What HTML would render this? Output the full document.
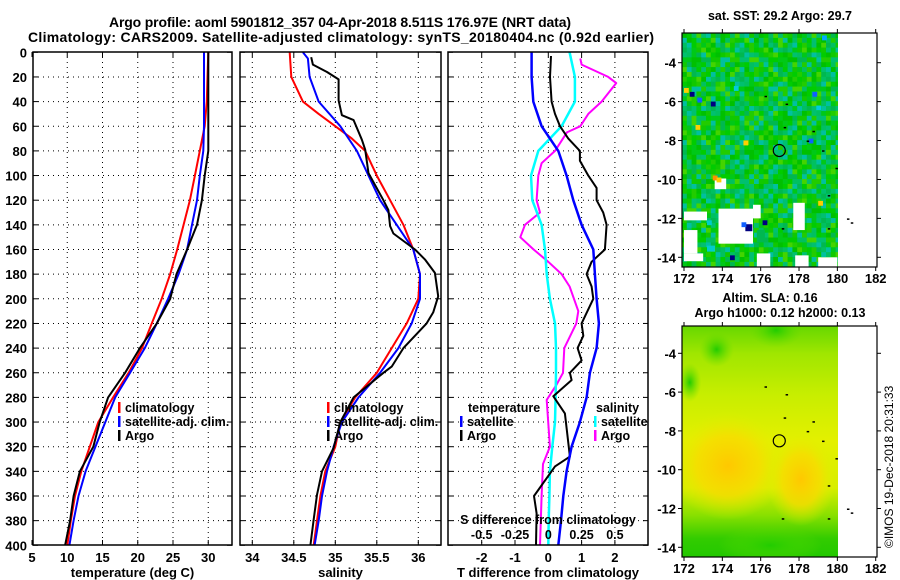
<!DOCTYPE html>
<html><head><meta charset="utf-8">
<style>
html,body{margin:0;padding:0;background:#fff;}
svg{display:block;font-family:"Liberation Sans",Arial,sans-serif;font-weight:bold;}
</style></head>
<body>
<svg id="c" width="900" height="580" viewBox="0 0 900 580" xmlns="http://www.w3.org/2000/svg">
<defs>
<clipPath id="cp1"><rect x="33" y="52" width="199" height="493"/></clipPath>
<clipPath id="cp2"><rect x="240" y="52" width="201" height="493"/></clipPath>
<clipPath id="cp3"><rect x="448" y="52" width="200" height="493"/></clipPath>
<clipPath id="cpm1"><rect x="682" y="33" width="156" height="234"/></clipPath>
<clipPath id="cpm2"><rect x="682" y="326" width="156" height="231"/></clipPath>
<radialGradient id="blobA" cx="0.5" cy="0.5" r="0.5"><stop offset="0" stop-color="#ffc800"/><stop offset="0.55" stop-color="#f8dc00" stop-opacity="0.8"/><stop offset="1" stop-color="#e0f000" stop-opacity="0"/></radialGradient>
<radialGradient id="blobG" cx="0.5" cy="0.5" r="0.5"><stop offset="0" stop-color="#22cc00"/><stop offset="1" stop-color="#66dd00" stop-opacity="0"/></radialGradient>
<linearGradient id="m2v" x1="0" y1="0" x2="0" y2="1">
<stop offset="0" stop-color="#66d800"/><stop offset="0.12" stop-color="#a0e600"/><stop offset="0.3" stop-color="#c8ee00"/><stop offset="0.5" stop-color="#e4f000"/><stop offset="0.7" stop-color="#d8ee00"/><stop offset="0.82" stop-color="#88e000"/><stop offset="0.92" stop-color="#33cc00"/><stop offset="1" stop-color="#22c800"/></linearGradient>
</defs>
<g id="root"></g>
</svg>
<script>
// ---------- data ----------
const depthStd = [0,20,40,60,80,100,120,140,160,180,200,220,240,260,280,300,320,340,360,380,400];
const tArgo = [30.0,30.0,30.0,30.0,30.0,29.5,29.1,28.4,27.0,25.5,24.6,22.7,20.3,18.2,15.8,14.6,13.7,11.8,10.9,10.4,9.7];
const tClim = [30.0,29.9,29.8,29.5,28.8,28.1,27.4,26.5,25.6,24.6,23.4,22.0,20.6,18.7,16.5,14.4,13.2,12.0,11.1,10.5,10.0];
const tSat  = [29.4,29.4,29.4,29.4,29.3,28.8,28.4,27.7,27.0,25.8,24.3,22.7,21.0,18.9,16.8,15.4,14.0,12.6,11.6,10.9,10.3];
const sArgoDepth = [4,10,16,22,39,51,55,71,79,98,120,128,141,147,160,168,179,198,211,220,240,255,260,280,300,321,340,359,379,400];
const sArgo = [34.71,34.73,34.90,35.04,35.04,35.08,35.22,35.32,35.36,35.40,35.58,35.64,35.66,35.70,35.96,36.08,36.20,36.24,36.18,36.10,35.82,35.68,35.58,35.22,35.06,34.98,34.84,34.78,34.74,34.70];
const sClimDepth = [0,20,40,50,60,70,80,100,120,140,160,180,200,220,240,260,280,300,320,340,360,380,400];
const sClim = [34.45,34.47,34.61,34.80,35.00,35.20,35.36,35.50,35.66,35.82,35.94,36.02,36.00,35.86,35.68,35.50,35.24,35.06,35.00,34.88,34.82,34.78,34.74];
const sSatDepth = [0,5,20,40,60,80,100,120,140,160,180,200,220,240,260,280,300,320,340,360,380,400];
const sSat = [34.61,34.67,34.69,34.80,35.06,35.26,35.40,35.54,35.74,35.94,36.02,36.02,35.92,35.76,35.54,35.28,35.08,34.98,34.90,34.84,34.80,34.75];
const dTSat = [-0.5,-0.5,-0.45,-0.2,0.3,0.55,0.75,1.0,1.35,1.4,1.45,1.52,1.45,1.25,1.15,0.95,0.7,0.55,0.45,0.38,0.3];
const dTArgoDepth = [3,20,40,50,60,70,80,88,100,110,120,130,140,160,170,180,190,200,220,230,240,250,260,266,279,293,328,336,360,374,400];
const dTArgo = [0.08,0.05,0.1,0.2,0.35,0.6,0.95,0.95,1.2,1.45,1.45,1.65,1.75,1.7,1.3,1.15,1.3,1.35,1.0,1.05,0.88,1.0,0.65,0.7,0.15,0.5,0.65,0.2,-0.43,-0.35,-0.37];
const dSSat = [0.16,0.2,0.2,0.1,-0.075,-0.13,-0.12,-0.05,-0.025,-0.012,0.012,0.05,0.058,0.058,0.055,0.05,0.03,0.012,0.008,0.003,0.0];
const dSArgoDepth = [5,10,20,25,40,50,60,65,80,90,100,120,130,140,150,160,170,180,190,210,220,240,260,270,282,320,334,360,400];
const dSArgo = [0.24,0.25,0.45,0.51,0.4,0.3,0.24,0.14,0.05,-0.05,-0.075,-0.088,-0.062,-0.175,-0.21,-0.11,0.0,0.1,0.16,0.225,0.21,0.12,0.11,0.06,-0.012,0.012,-0.04,-0.05,-0.062];
const depthTicks = [0,20,40,60,80,100,120,140,160,180,200,220,240,260,280,300,320,340,360,380,400];
const tTicks = [5,10,15,20,25,30];
const sTicks = [34,34.5,35,35.5,36];
const sTickLabels = ["34","34.5","35","35.5","36"];
const dTTicks = [-2,-1,0,1,2];
const dSTicks = [-0.5,-0.25,0,0.25,0.5];
const dSTickLabels = ["-0.5","-0.25","0","0.25","0.5"];
const lonTicks = [172,174,176,178,180,182];
const latTicks = [-4,-6,-8,-10,-12,-14];
const argoLon = 176.97, argoLat = -8.511;
// ---------- scales ----------
const yD = d => 52.3 + d*1.2325;
const xT = t => 32 + (t-5)*7.05;
const xS = s => 252.3 + (s-34)*83;
const xDT = v => 548.3 + v*33.3;
const xDS = v => 548.3 + v*133.2;
const m1 = {x0:682,x1:877,y0:33,y1:267,lon:l=>684+(l-172)*19.17,lat:a=>62.7+(-4-a)*19.46};
const m2 = {x0:682,x1:877,y0:326,y1:557,lon:l=>684+(l-172)*19.17,lat:a=>353.3+(-4-a)*19.4};

const NS="http://www.w3.org/2000/svg";
const root=document.getElementById('root');
function el(tag,attrs,parent){const e=document.createElementNS(NS,tag);for(const k in attrs)e.setAttribute(k,attrs[k]);(parent||root).appendChild(e);return e;}
function txt(x,y,s,size,anchor,parent){const t=el('text',{x:x,y:y,'font-size':size,'text-anchor':anchor||'middle',fill:'#000'},parent);t.textContent=s;return t;}

let t1=txt(340,27,"Argo profile: aoml 5901812_357 04-Apr-2018 8.511S 176.97E (NRT data)",14);


t1.setAttribute('textLength','462');
let t2=txt(341,42,"Climatology: CARS2009. Satellite-adjusted climatology: synTS_20180404.nc (0.92d earlier)",14);


t2.setAttribute('textLength','626');

function panel(name,x0,x1,clip,xticks,xfn,xlabels,xtitle){
  const g=el('g',{});
  
  
  const grid=el('g',{stroke:'#000','stroke-width':1,'stroke-dasharray':'1,4'},g);
  
  
  depthTicks.forEach(d=>{if(d>0&&d<400)el('line',{x1:x0,x2:x1,y1:yD(d),y2:yD(d)},grid);});
  xticks.forEach(v=>{const x=xfn(v);if(x>x0+2&&x<x1-2)el('line',{x1:x,x2:x,y1:52,y2:545},grid);});
  const tk=el('g',{stroke:'#000','stroke-width':1},g);
  depthTicks.forEach(d=>{el('line',{x1:x0,x2:x0+5,y1:yD(d),y2:yD(d)},tk);el('line',{x1:x1-5,x2:x1,y1:yD(d),y2:yD(d)},tk);});
  xticks.forEach(v=>{const x=xfn(v);el('line',{x1:x,x2:x,y1:545,y2:540},tk);el('line',{x1:x,x2:x,y1:52,y2:57},tk);});
  xticks.forEach((v,i)=>{const l=txt(xfn(v),562,xlabels[i],13,'middle',g);
    
    });
  const xt=txt((x0+x1)/2,577,xtitle,13,'middle',g);
  
  
  return g;
}
function frame(x0,x1,g){el('rect',{x:x0,y:52,width:x1-x0,height:493,fill:'none',stroke:'#000','stroke-width':1.5},g);}
function line(g,clip,xs,ds,xfn,color,name,w){
  const pts=xs.map((v,i)=>xfn(v).toFixed(1)+','+yD(ds[i]).toFixed(1)).join(' ');
  const p=el('polyline',{points:pts,fill:'none',stroke:color,'stroke-width':w||2,'stroke-linejoin':'round','clip-path':'url(#'+clip+')'},g);
  
  
}
function legend(g,x,y,items){
  items.forEach((it,i)=>{
    const yy=y+i*14;
    if(it.c) el('rect',{x:x,y:yy-10,width:2.5,height:11,fill:it.c},g);
    const l=txt(x+(it.c?7:0),yy,it.t,12.5,'start',g);
    
    
  });
}

const yl=el('g',{});


depthTicks.forEach(d=>{txt(27,yD(d)+5,String(d),13,'end',yl);});

const p1=panel('temperature-panel',33,232,'cp1',tTicks,xT,tTicks.map(String),'temperature (deg C)');
line(p1,'cp1',tClim,depthStd,xT,'#ff0000','temp-climatology-line');
line(p1,'cp1',tSat,depthStd,xT,'#0000ff','temp-satellite-line');
line(p1,'cp1',tArgo,depthStd,xT,'#000000','temp-argo-line');
frame(33,232,p1);
legend(p1,118,412,[{c:'#f00',t:'climatology'},{c:'#00f',t:'satellite-adj. clim.'},{c:'#000',t:'Argo'}]);

const p2=panel('salinity-panel',240,441,'cp2',sTicks,xS,sTickLabels,'salinity');
line(p2,'cp2',sClim,sClimDepth,xS,'#ff0000','sal-climatology-line');
line(p2,'cp2',sSat,sSatDepth,xS,'#0000ff','sal-satellite-line');
line(p2,'cp2',sArgo,sArgoDepth,xS,'#000000','sal-argo-line');
frame(240,441,p2);
legend(p2,327,412,[{c:'#f00',t:'climatology'},{c:'#00f',t:'satellite-adj. clim.'},{c:'#000',t:'Argo'}]);

const p3=panel('difference-panel',448,648,'cp3',dTTicks,xDT,dTTicks.map(String),'T difference from climatology');
line(p3,'cp3',dSArgo,dSArgoDepth,xDS,'#ff00ff','sal-diff-argo-line');
line(p3,'cp3',dSSat,depthStd,xDS,'#00ffff','sal-diff-satellite-line',2.5);
line(p3,'cp3',dTArgo,dTArgoDepth,xDT,'#000000','temp-diff-argo-line');
line(p3,'cp3',dTSat,depthStd,xDT,'#0000ff','temp-diff-satellite-line',2.5);
frame(448,648,p3);
legend(p3,468,412,[{t:'temperature'}]);
legend(p3,460,426,[{c:'#00f',t:'satellite'},{c:'#000',t:'Argo'}]);
legend(p3,596,412,[{t:'salinity'}]);
legend(p3,594,426,[{c:'#0ff',t:'satellite'},{c:'#f0f',t:'Argo'}]);
const sdt=txt(548,524,'S difference from climatology',12.5,'middle',p3);


dSTicks.forEach((v,i)=>{const l=txt(xDS(v),539,dSTickLabels[i],12.5,'middle',p3);
  
  });

function mapAxes(g,m,name){
  el('rect',{x:m.x0,y:m.y0,width:m.x1-m.x0,height:m.y1-m.y0,fill:'none',stroke:'#000','stroke-width':1.2},g);
  const tk=el('g',{stroke:'#000','stroke-width':1},g);
  lonTicks.forEach(l=>{const x=m.lon(l);el('line',{x1:x,x2:x,y1:m.y1,y2:m.y1+4},tk);el('line',{x1:x,x2:x,y1:m.y0,y2:m.y0-4},tk);
    const t=txt(x,m.y1+16,String(l),13,'middle',g);
    
    });
  latTicks.forEach(a=>{const y=m.lat(a);el('line',{x1:m.x0-4,x2:m.x0,y1:y,y2:y},tk);el('line',{x1:m.x1,x2:m.x1+4,y1:y,y2:y},tk);
    const t=txt(m.x0-6,y+5,String(a),13,'end',g);
    
    });
  const c=el('circle',{cx:m.lon(argoLon),cy:m.lat(argoLat),r:6,fill:'none',stroke:'#000','stroke-width':1.2},g);
  
  
}
const whiteAreas=[[172,-11.65,173.2,-12.1],[173.6,-9.95,174.2,-10.5],[173.8,-11.5,175.6,-13.3],[175.6,-11.3,176.0,-12.0],[172,-12.6,172.7,-13.8],[177.7,-11.2,178.3,-12.6],[175.8,-13.8,176.5,-14.5],[177.8,-13.9,178.5,-14.5],[179.0,-14.0,180,-14.5],[172,-13.8,173,-14.2]];
const specialCells=[[172.0,-5.3,'#ffd000'],[172.3,-5.5,'#000080'],[173.4,-6.0,'#000080'],[172.7,-5.8,'#1060ff'],[172.6,-7.2,'#ffd000'],[173.5,-9.8,'#ff9000'],[173.7,-9.9,'#ffd000'],[175.1,-8.0,'#ffd000'],[179.0,-11.1,'#ffcc00'],[178.5,-7.9,'#1060ff'],[176.1,-12.1,'#000080'],[174.4,-13.9,'#000080'],[178.7,-5.5,'#1060ff'],[173.2,-12.1,'#00cccc'],[175.0,-12.2,'#1060ff'],[179.2,-2.6,'#00aaff'],[178.9,-6.2,'#00ccdd'],[174.6,-5.2,'#00ccdd']];
const m1g=el('g',{'clip-path':'url(#cpm1)'});


el('rect',{x:682,y:33,width:156,height:234,fill:'#00c800'},m1g);
const pal=['#00c000','#00c060','#22cc00','#00b850','#00cc00','#00c070','#11c800','#00c818','#44d400','#00c0a0'];
const cw=4.8,ch=4.87;
for(let j=0;j<49;j++)for(let i=0;i<33;i++){
  const h=((i*7349+j*3571+(i*j)*131)%97);
  const col=pal[h%10];
  el('rect',{x:682+i*cw,y:33+j*ch,width:cw+0.3,height:ch+0.3,fill:col},m1g);
}
whiteAreas.forEach(w=>{el('rect',{x:m1.lon(w[0]),y:m1.lat(w[1]),width:m1.lon(w[2])-m1.lon(w[0]),height:m1.lat(w[3])-m1.lat(w[1]),fill:'#fff'},m1g);});
el('rect',{x:m1.lon(175.2),y:m1.lat(-12.3),width:7,height:7,fill:'#000080'},m1g);
el('rect',{x:m1.lon(175.8),y:m1.lat(-12.6),width:8,height:12,fill:'#00b850'},m1g);
el('rect',{x:m1.lon(173.2),y:m1.lat(-13.4),width:8,height:6,fill:'#00cccc'},m1g);
specialCells.forEach(c=>{el('rect',{x:m1.lon(c[0]),y:m1.lat(c[1]),width:cw,height:ch,fill:c[2]},m1g);});
const m1a=el('g',{});


mapAxes(m1a,m1,'sst-map');
const mt1=txt(780,20,'sat. SST: 29.2 Argo: 29.7',12.5);



const m2g=el('g',{'clip-path':'url(#cpm2)'});


el('rect',{x:682,y:326,width:156,height:231,fill:'url(#m2v)'},m2g);
const blobs=[[174.3,-9.8,3.0,2.8,'blobA'],[178.1,-10.5,1.8,2.4,'blobA'],[176.8,-2.8,1.4,0.9,'blobG'],[173.7,-3.8,0.9,0.9,'blobG'],[172.3,-5.5,0.6,1.0,'blobG'],[176.5,-13.9,2.7,1.0,'blobG']];
blobs.forEach(b=>{el('ellipse',{cx:m2.lon(b[0]),cy:m2.lat(b[1]),rx:b[2]*19.2,ry:b[3]*19.4,fill:'url(#'+b[4]+')'},m2g);});
const m2a=el('g',{});


mapAxes(m2a,m2,'sla-map');
const mt2=txt(770,302,'Altim. SLA: 0.16',12.5);


const mt3=txt(780,317,'Argo h1000: 0.12 h2000: 0.13',12.5);



const specks=[[176.2,-5.7],[177.3,-6.1],[177.2,-7.3],[178.7,-7.5],[178.4,-8.0],[179.2,-8.5],[179.9,-9.4],[179.5,-10.8],[180.5,-12.0],[180.7,-12.2],[177.1,-12.5],[179.5,-12.5]];
[m1,m2].forEach(m=>specks.forEach(s=>{el('rect',{x:m.lon(s[0]),y:m.lat(s[1]),width:2.5,height:1.5,fill:'#000'});}));

const cr=el('text',{x:0,y:0,'font-size':12,'font-weight':'normal','text-anchor':'start',transform:'translate(893,548) rotate(-90)',fill:'#000'});
cr.textContent='\u00A9IMOS 19-Dec-2018 20:31:33';


</script>
</body></html>
